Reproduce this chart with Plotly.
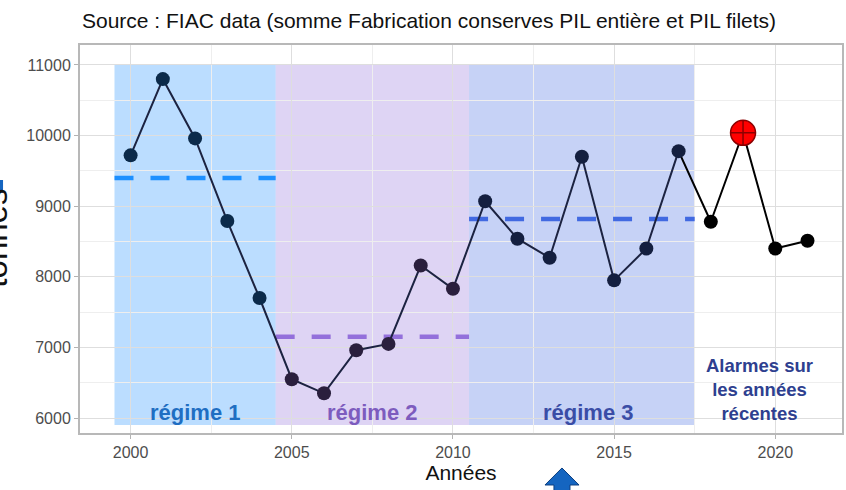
import plotly.graph_objects as go

years = list(range(2000, 2022))
tonnes = [9720, 10800, 9960, 8790, 7700, 6550, 6350, 6960, 7050, 8160,
          7830, 9070, 8540, 8270, 9700, 7950, 8400, 9780, 8780, 10040, 8400, 8510]
point_colors = ["#0B2A4A"] * 5 + ["#2A1F3D"] * 6 + ["#141F3F"] * 7 + ["#000000"] * 4

regime_names = ["régime 1", "régime 2", "régime 3"]
regime_start = [1999.5, 2004.5, 2010.5]
regime_end = [2004.5, 2010.5, 2017.5]
regime_means = [9400, 7150, 8820]
regime_fill = ["rgba(30,144,255,0.3)", "rgba(147,112,219,0.3)", "rgba(65,105,225,0.3)"]
regime_line = ["#1E90FF", "#9370DB", "#4169E1"]
regime_text = ["#1F6EC2", "#7D5CBE", "#3A4DA6"]
regime_label_x = [2002.0, 2007.5, 2014.2]
rect_bottom, rect_top = 5900, 11000

alarm_year = 2019
alarm_text = "Alarmes sur<br>les années<br>récentes"

fig = go.Figure()

shapes = []
for s, e, c in zip(regime_start, regime_end, regime_fill):
    shapes.append(dict(type="rect", xref="x", yref="y", x0=s, x1=e, y0=rect_bottom, y1=rect_top,
                       fillcolor=c, line=dict(width=0), layer="below"))

for s, e, m, c in zip(regime_start, regime_end, regime_means, regime_line):
    fig.add_trace(go.Scatter(x=[s, e], y=[m, m], mode="lines",
                             line=dict(color=c, width=4.5, dash="19px,17px"),
                             hoverinfo="skip", showlegend=False))

n_hist = years.index(2017) + 1
fig.add_trace(go.Scatter(x=years[:n_hist], y=tonnes[:n_hist], mode="lines",
                         line=dict(color="#1C2341", width=2), showlegend=False))
fig.add_trace(go.Scatter(x=years[n_hist - 1:], y=tonnes[n_hist - 1:], mode="lines",
                         line=dict(color="#000000", width=2), showlegend=False))
fig.add_trace(go.Scatter(x=years, y=tonnes, mode="markers",
                         marker=dict(color=point_colors, size=14, line=dict(width=0)),
                         showlegend=False))
ai = years.index(alarm_year)
fig.add_trace(go.Scatter(x=[years[ai]], y=[tonnes[ai]], mode="markers",
                         marker=dict(symbol="circle-cross", color="#FF0000", size=25,
                                     line=dict(color="#8B0000", width=1.5)),
                         showlegend=False))

annotations = []
for name, xl, c in zip(regime_names, regime_label_x, regime_text):
    annotations.append(dict(x=xl, y=6085, xref="x", yref="y", text="<b>%s</b>" % name,
                            showarrow=False, font=dict(size=22, color=c, family="Liberation Sans")))
annotations.append(dict(x=2019.5, y=6411, xref="x", yref="y", text="<b>%s</b>" % alarm_text,
                        showarrow=False, align="center", yanchor="middle",
                        font=dict(size=18.5, color="#2E3F8F", family="Liberation Sans")))
annotations.append(dict(x=0, y=1.0, xref="paper", yref="paper", xanchor="left", yanchor="bottom",
                        yshift=11, text="Source : FIAC data (somme Fabrication conserves PIL entière et PIL filets)",
                        showarrow=False, font=dict(size=21, color="#111111", family="Liberation Sans")))
annotations.append(dict(x=-0.1105, y=0.503, xref="paper", yref="paper", text="tonnes", textangle=-90,
                        showarrow=False, xanchor="center", yanchor="middle",
                        font=dict(size=33, color="#111111", family="Liberation Sans")))

# bottom arrow (paper coords)
shapes.append(dict(type="path", xref="paper", yref="paper",
                   path="M 0.622 -0.16 L 0.622 -0.134 L 0.6102 -0.134 "
                        "L 0.6325 -0.0902 L 0.6549 -0.134 L 0.643 -0.134 L 0.643 -0.16",
                   fillcolor="#1565C0", line=dict(color="#0D3F80", width=1)))
# blue mark near y-title
shapes.append(dict(type="rect", xref="paper", yref="paper", x0=-0.106, x1=-0.101, y0=0.619, y1=0.652,
                   fillcolor="#1565C0", line=dict(width=0)))

fig.update_layout(
    width=846, height=490,
    margin=dict(l=80, r=4, t=45, b=57, autoexpand=False),
    paper_bgcolor="white", plot_bgcolor="white",
    shapes=shapes, annotations=annotations,
    font=dict(family="Liberation Sans"),
)
fig.update_xaxes(range=[1998.43, 2022.07], tickvals=[2000, 2005, 2010, 2015, 2020],
                 automargin=False,
                 showgrid=True, gridcolor="#DEDEDE", gridwidth=1,
                 minor=dict(tickvals=[2002.5, 2007.5, 2012.5, 2017.5], showgrid=True,
                            gridcolor="#EEEEEE", gridwidth=1),
                 ticks="outside", ticklen=4, tickcolor="#B3B3B3",
                 tickfont=dict(size=16, color="#4D4D4D"),
                 showline=True, mirror=True, linecolor="#B8B8B8", linewidth=2,
                 zeroline=False,
                 title=dict(text="Années", font=dict(size=21, color="#111111"), standoff=0))
fig.update_yaxes(range=[5788, 11283], tickvals=[6000, 7000, 8000, 9000, 10000, 11000],
                 tickformat="d", automargin=False,
                 showgrid=True, gridcolor="#DEDEDE", gridwidth=1,
                 minor=dict(tickvals=[6500, 7500, 8500, 9500, 10500], showgrid=True,
                            gridcolor="#EEEEEE", gridwidth=1),
                 ticks="outside", ticklen=4, tickcolor="#B3B3B3",
                 tickfont=dict(size=16, color="#4D4D4D"),
                 showline=True, mirror=True, linecolor="#B8B8B8", linewidth=2,
                 zeroline=False)

fig.write_html("out.html", config={"displayModeBar": False},
               post_script="document.body.style.margin='0px';document.body.style.padding='0px';")
